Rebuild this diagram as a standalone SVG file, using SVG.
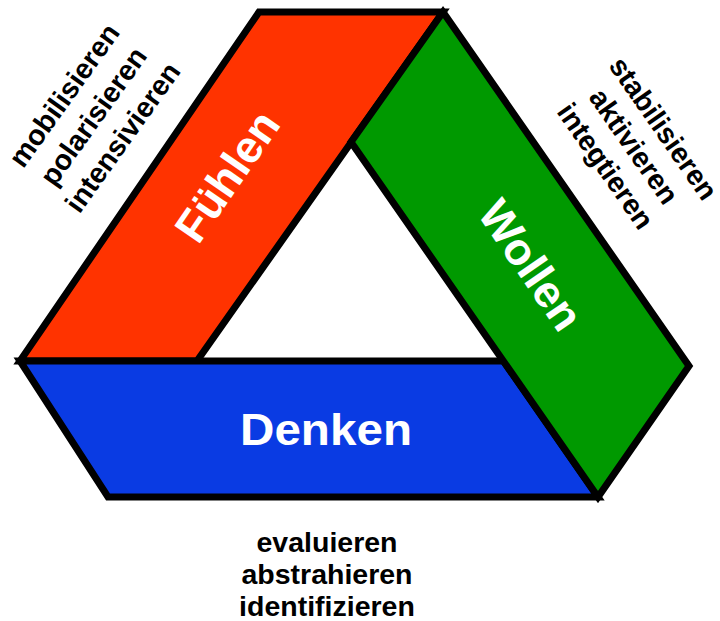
<svg xmlns="http://www.w3.org/2000/svg" width="720" height="621" viewBox="0 0 720 621">
<style>
.shape{stroke:#000;stroke-width:7;stroke-linejoin:miter;stroke-miterlimit:10}
.lbl{font-family:"Liberation Sans",Arial,sans-serif;font-weight:bold;fill:#fff;font-size:45px;text-anchor:middle}
.side{font-family:"Liberation Sans",Arial,sans-serif;font-weight:bold;fill:#000;font-size:28.5px;text-anchor:middle}
</style>
<rect width="720" height="621" fill="#fff"/>
<g id="fuehlen">
<polygon class="shape" fill="#FF3300" points="259,12 443,12 197,361 20,361"/>
<text class="lbl" transform="translate(240,185) rotate(-55.5)">Fühlen</text>
</g>
<g id="denken">
<polygon class="shape" fill="#0A3BE3" points="20,361 503.5,361 598,497 108,497"/>
<text class="lbl" x="326" y="445" textLength="172" lengthAdjust="spacingAndGlyphs">Denken</text>
</g>
<g id="wollen">
<polygon class="shape" fill="#009900" points="443,12 689,366 598,497 351,142"/>
<text class="lbl" transform="translate(518,274) rotate(55.5)">Wollen</text>
</g>
<g id="left-text" transform="translate(72,101) rotate(-54.5)">
<text class="side" x="0" y="0">mobilisieren</text>
<text class="side" x="0" y="36">polarisieren</text>
<text class="side" x="0" y="72">intensivieren</text>
</g>
<g id="right-text" transform="translate(626,152) rotate(55.2)">
<text class="side" x="2" y="-34.5">stabilisieren</text>
<text class="side" x="0" y="0">aktivieren</text>
<text class="side" x="0" y="34.5">integtieren</text>
</g>
<g id="bottom-text">
<text class="side" x="327" y="552">evaluieren</text>
<text class="side" x="327" y="584">abstrahieren</text>
<text class="side" x="327" y="616">identifizieren</text>
</g>
</svg>
